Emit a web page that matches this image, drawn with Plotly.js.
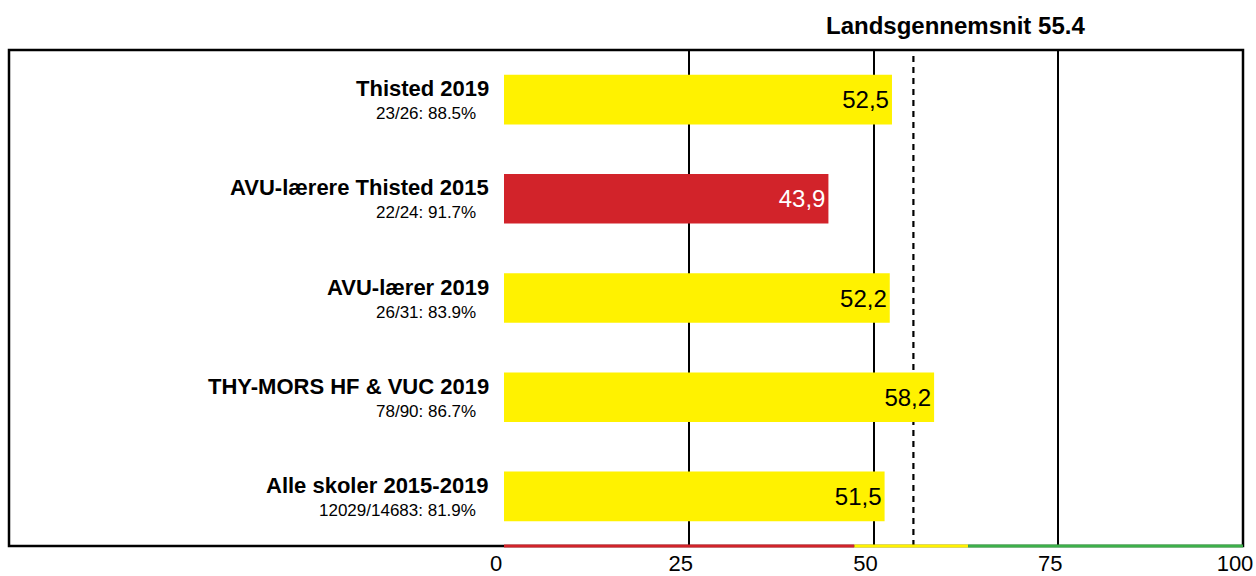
<!DOCTYPE html>
<html>
<head>
<meta charset="utf-8">
<script src="https://cdn.plot.ly/plotly-3.0.1.min.js"></script>
<style>
  html, body { margin: 0; padding: 0; background: #fff; }
  #chart { width: 1256px; height: 576px; }
</style>
</head>
<body>
<div id="chart"></div>
<script>
// groups, top to bottom
const groups = ['Thisted 2019', 'AVU-lærere Thisted 2015', 'AVU-lærer 2019', 'THY-MORS HF & VUC 2019', 'Alle skoler 2015-2019']
const subLabels = ['23/26: 88.5%', '22/24: 91.7%', '26/31: 83.9%', '78/90: 86.7%', '12029/14683: 81.9%']
const scores = [52.5, 43.9, 52.2, 58.2, 51.5]
const barColors = ['#fff200', '#d2232a', '#fff200', '#fff200', '#fff200']
const textColors = ['#000', '#fff', '#000', '#000', '#000']

const nationalAvg = 55.4
// colour scale under the axis
const bandEdges = [0, 47.4, 62.8, 100]
const bandColors = ['#d2232a', '#fff200', '#3cb04a']

const xTicks = [0, 25, 50, 75, 100]

const font = 'Arial, "Liberation Sans", sans-serif'

let trace = {
    type: 'bar',
    orientation: 'h',
    y: groups,
    x: scores,
    width: 0.5,
    marker: { color: barColors, line: { width: 0 } },
    text: scores.map(v => v.toFixed(1).replace('.', ',')),
    textposition: 'inside',
    insidetextanchor: 'end',
    constraintext: 'none',
    textfont: { family: font, size: 24, color: textColors },
    hoverinfo: 'skip',
    cliponaxis: false,
}

let shapes = [{
    // outer frame
    type: 'rect', xref: 'paper', yref: 'paper',
    x0: (9 - 504) / 739, x1: 1, y0: 0, y1: 1,
    line: { color: '#000', width: 2.5 },
}, {
    type: 'line', xref: 'x', yref: 'paper',
    x0: nationalAvg, x1: nationalAvg, y0: 0, y1: 1,
    layer: 'below',
    line: { color: '#000', width: 2.2, dash: '6px,5px' },
}]
for (let i = 0; i < bandColors.length; i++) {
    shapes.push({
        type: 'line', xref: 'x', yref: 'paper',
        x0: bandEdges[i], x1: bandEdges[i + 1], y0: 0, y1: 0,
        line: { color: bandColors[i], width: 3 },
    })
}

let annotations = []
groups.forEach((g, i) => {
    annotations.push({
        xref: 'paper', yref: 'y', x: 0, y: g,
        xanchor: 'right', yanchor: 'middle',
        xshift: -13, yshift: 11,
        text: '<b>' + g + '</b>', showarrow: false,
        font: { family: font, size: 22, color: '#000' },
    })
    annotations.push({
        xref: 'paper', yref: 'y', x: 0, y: g,
        xanchor: 'right', yanchor: 'middle',
        xshift: -26, yshift: -14,
        text: subLabels[i], showarrow: false,
        font: { family: font, size: 17, color: '#000' },
    })
})
annotations.push({
    xref: 'paper', yref: 'paper', x: (955 - 504) / 739, y: 1,
    xanchor: 'center', yanchor: 'middle', yshift: 25,
    text: '<b>Landsgennemsnit ' + nationalAvg + '</b>', showarrow: false,
    font: { family: font, size: 24, color: '#000' },
})

const layout = {
    width: 1256,
    height: 576,
    margin: { l: 504, r: 13, t: 50, b: 30 },
    paper_bgcolor: '#fff',
    plot_bgcolor: '#fff',
    showlegend: false,
    font: { family: font, color: '#000' },
    xaxis: {
        range: [0, 100],
        tickvals: xTicks,
        ticktext: xTicks.map(String),
        ticks: '',
        showgrid: true,
        gridcolor: '#000',
        gridwidth: 2,
        zeroline: false,
        showline: false,
        ticklabelshift: -8,
        ticklabelstandoff: 2,
        tickfont: { family: font, size: 22, color: '#000' },
        fixedrange: true,
    },
    yaxis: {
        type: 'category',
        categoryorder: 'array',
        categoryarray: groups,
        autorange: 'reversed',
        showticklabels: false,
        showgrid: false,
        zeroline: false,
        showline: false,
        ticks: '',
        fixedrange: true,
    },
    bargap: 0.5,
    shapes: shapes,
    annotations: annotations,
}

Plotly.newPlot('chart', [trace], layout, { staticPlot: true })
</script>
</body>
</html>
